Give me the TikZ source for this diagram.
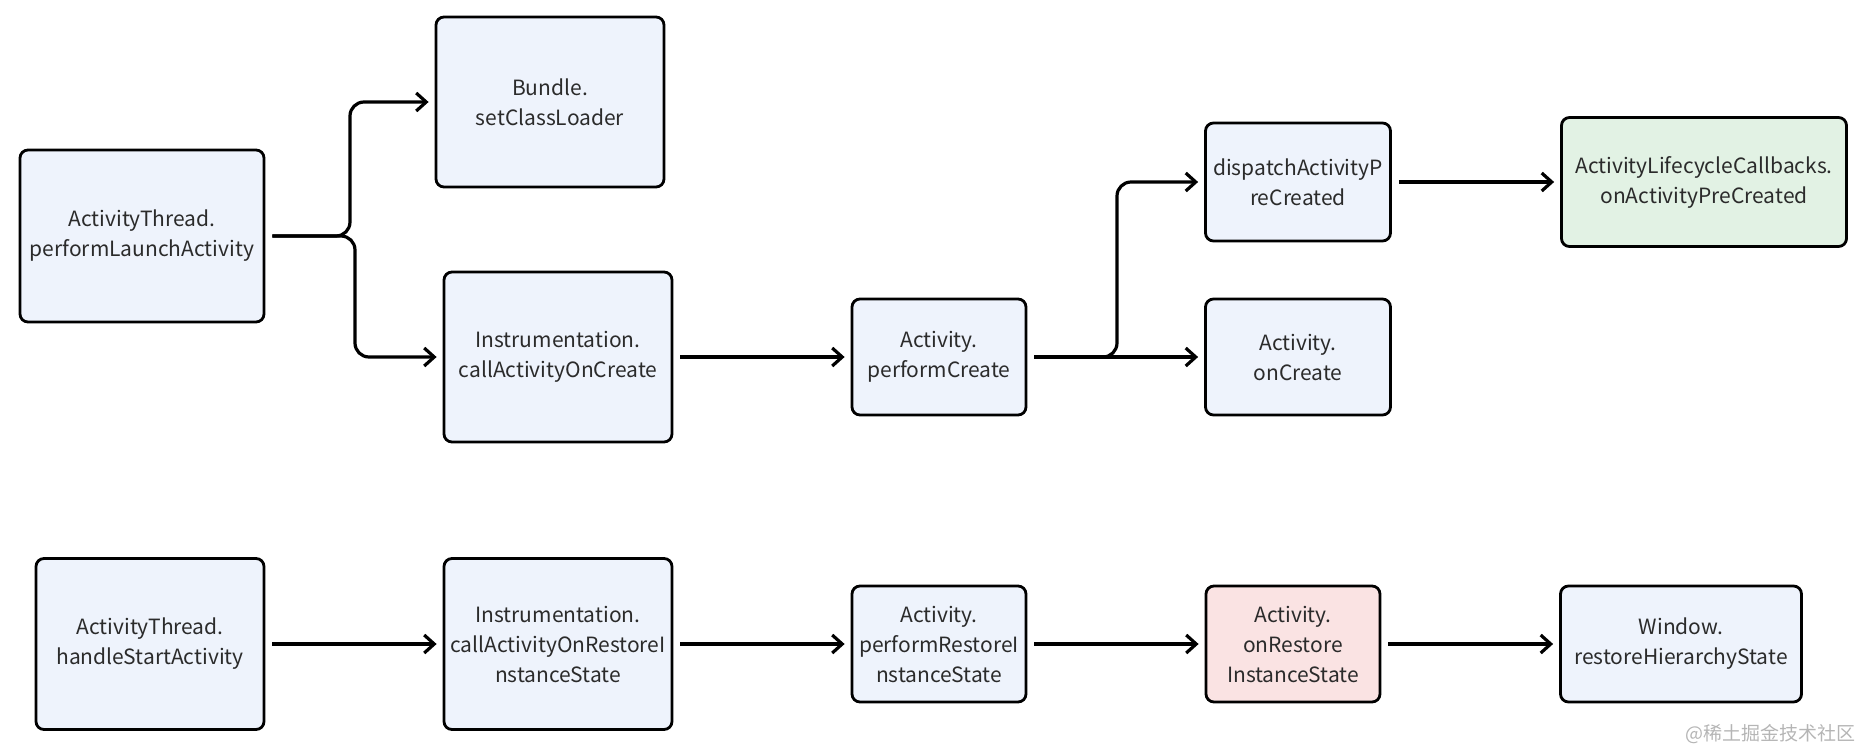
\documentclass[tikz,border=0pt]{standalone}
\usepackage{fontspec}
\setmainfont{Noto Sans CJK SC}
\usetikzlibrary{arrows.meta}
\definecolor{boxblue}{HTML}{EEF3FC}
\definecolor{boxgreen}{HTML}{E2F2E4}
\definecolor{boxpink}{HTML}{FAE3E3}
\definecolor{txt}{HTML}{2B2B2B}
\definecolor{wm}{HTML}{B5B5B5}
\tikzset{
  box/.style={draw=black, line width=2.8pt, rounded corners=8pt, fill=boxblue,
    align=center, inner sep=0pt, text=txt, font=\fontsize{21}{30}\selectfont},
  bigbox/.style={box, minimum width=228pt, minimum height=170pt},
  smallbox/.style={box, minimum width=174pt, minimum height=116pt},
  conn/.style={line width=3.2pt, draw=black, rounded corners=14pt,
    -{Straight Barb[length=10pt,width=18pt]}, shorten <=7pt, shorten >=6pt},
}
\begin{document}
\begin{tikzpicture}[x=1pt,y=-1pt]
\useasboundingbox (0,0) rectangle (1868,750);
% top group
\node[box, minimum width=244pt, minimum height=172pt] (a1) at (142,236) {ActivityThread.\\performLaunchActivity};
\node[bigbox] (bundle) at (550,102) {Bundle.\\setClassLoader};
\node[bigbox] (instr) at (558,357) {Instrumentation.\\callActivityOnCreate};
\node[smallbox] (pc) at (939,357) {Activity.\\performCreate};
\node[smallbox, minimum width=185pt, minimum height=118pt] (disp) at (1298,182) {dispatchActivityP\\reCreated};
\node[smallbox, minimum width=185pt] (onc) at (1298,357) {Activity.\\onCreate};
\node[box, fill=boxgreen, minimum width=285pt, minimum height=129pt] (cb) at (1704,182) {ActivityLifecycleCallbacks.\\onActivityPreCreated};
% bottom group
\node[box, minimum width=228pt, minimum height=171pt] (a2) at (150,644) {ActivityThread.\\handleStartActivity};
\node[bigbox, minimum height=171pt] (instr2) at (558,644) {Instrumentation.\\callActivityOnRestoreI\\nstanceState};
\node[smallbox] (pr) at (939,644) {Activity.\\performRestoreI\\nstanceState};
\node[smallbox, fill=boxpink] (onr) at (1293,644) {Activity.\\onRestore\\InstanceState};
\node[smallbox, minimum width=241pt] (win) at (1681,644) {Window.\\restoreHierarchyState};
% connectors
\coordinate (j1a) at (350,236);
\coordinate (j1b) at (355,236);
\coordinate (j2) at (1117,357);
\draw[conn] (a1.east) -- (j1a) |- (bundle.west);
\draw[conn] (a1.east) -- (j1b) |- (instr.west);
\draw[conn] (instr.east) -- (pc.west);
\draw[conn] (pc.east) -- (onc.west);
\draw[conn] (pc.east) -- (j2) |- (disp.west);
\draw[conn] (disp.east) -- (cb.west);
\draw[conn] (a2.east) -- (instr2.west);
\draw[conn] (instr2.east) -- (pr.west);
\draw[conn] (pr.east) -- (onr.west);
\draw[conn] (onr.east) -- (win.west);
% watermark
\node[anchor=east, inner sep=0pt, text=wm, font=\fontsize{19}{22}\selectfont] (wmk) at (1856,734) {@稀土掘金技术社区};
\end{tikzpicture}
\end{document}
